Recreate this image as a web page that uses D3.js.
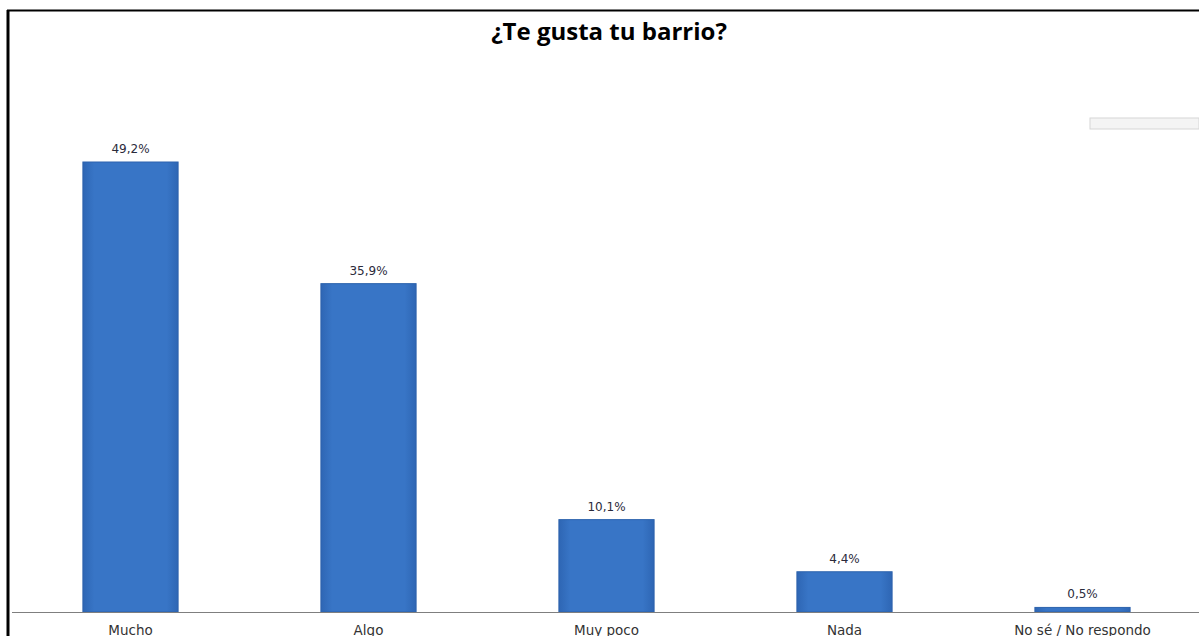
<!DOCTYPE html>
<html>
<head>
<meta charset="utf-8">
<script src="https://cdn.jsdelivr.net/npm/d3@7"></script>
<style>
  body { margin: 0; background: #fff; }
  svg { display: block; }
</style>
</head>
<body>
<div id="chart"></div>
<script>
// survey answers and their share (percent)
var categories = ["Mucho", "Algo", "Muy poco", "Nada", "No sé / No respondo"];
var values = [49.2, 35.9, 10.1, 4.4, 0.5];
var valueLabels = ["49,2%", "35,9%", "10,1%", "4,4%", "0,5%"];

var width = 1199, height = 636;
var baseline = 612;

var svg = d3.select("#chart")
  .append("svg")
  .attr("width", width)
  .attr("height", height);

// bar gradient (lighter centre, darker edges)
var defs = svg.append("defs");
var grad = defs.append("linearGradient")
  .attr("id", "barGrad")
  .attr("x1", "0%").attr("x2", "100%")
  .attr("y1", "0%").attr("y2", "0%");
grad.append("stop").attr("offset", "0%").attr("stop-color", "#2e66b4");
grad.append("stop").attr("offset", "12%").attr("stop-color", "#3875c6");
grad.append("stop").attr("offset", "88%").attr("stop-color", "#3875c6");
grad.append("stop").attr("offset", "100%").attr("stop-color", "#2e66b4");

// frame: top and left border lines
svg.append("line")
  .attr("x1", 7).attr("x2", width)
  .attr("y1", 10.5).attr("y2", 10.5)
  .attr("stroke", "#000").attr("stroke-width", 2);
svg.append("line")
  .attr("x1", 8).attr("x2", 8)
  .attr("y1", 10).attr("y2", height)
  .attr("stroke", "#000").attr("stroke-width", 3);

// faded legend remnant at top right
svg.append("rect")
  .attr("x", 1090).attr("y", 118)
  .attr("width", 109).attr("height", 11)
  .attr("fill", "#f4f4f4")
  .attr("stroke", "#d6d6d6");

var x = d3.scaleBand()
  .domain(categories)
  .range([11.5, 1201.5])
  .paddingInner(0.6)
  .paddingOuter(0.3);

// 49.2% is 450px tall
var y = d3.scaleLinear()
  .domain([0, 49.2])
  .range([baseline, 162]);

var data = categories.map(function(c, i) {
  return { name: c, value: values[i], label: valueLabels[i] };
});

svg.selectAll(".bar")
  .data(data)
  .enter()
  .append("rect")
  .attr("class", "bar")
  .attr("x", function(d) { return x(d.name); })
  .attr("y", function(d) { return y(d.value); })
  .attr("width", x.bandwidth())
  .attr("height", function(d) { return baseline - y(d.value); })
  .attr("fill", "url(#barGrad)")
  .attr("stroke", "#2d63ad")
  .attr("stroke-width", 1);

// baseline
svg.append("line")
  .attr("x1", 12).attr("x2", width)
  .attr("y1", baseline + 0.5).attr("y2", baseline + 0.5)
  .attr("stroke", "#7f7f7f").attr("stroke-width", 1);

// value labels
svg.selectAll(".val")
  .data(data)
  .enter()
  .append("text")
  .attr("class", "val")
  .attr("x", function(d) { return x(d.name) + x.bandwidth() / 2; })
  .attr("y", function(d) { return y(d.value) - 9; })
  .attr("text-anchor", "middle")
  .style("font-family", "DejaVu Sans, sans-serif")
  .style("font-size", "12px")
  .style("fill", "#2b2b3b")
  .text(function(d) { return d.label; });

// category axis
var xAxis = d3.axisBottom(x).tickSize(0).tickPadding(13);
var gx = svg.append("g")
  .attr("transform", "translate(0," + baseline + ")")
  .call(xAxis);
gx.select(".domain").remove();
gx.selectAll("text")
  .style("font-family", "DejaVu Sans, sans-serif")
  .style("font-size", "13.5px")
  .style("fill", "#333");

// title
svg.append("text")
  .attr("x", 609)
  .attr("y", 40)
  .attr("text-anchor", "middle")
  .style("font-family", "Open Sans, sans-serif")
  .style("font-weight", "bold")
  .style("font-size", "24px")
  .style("fill", "#000")
  .text("¿Te gusta tu barrio?");
</script>
</body>
</html>
